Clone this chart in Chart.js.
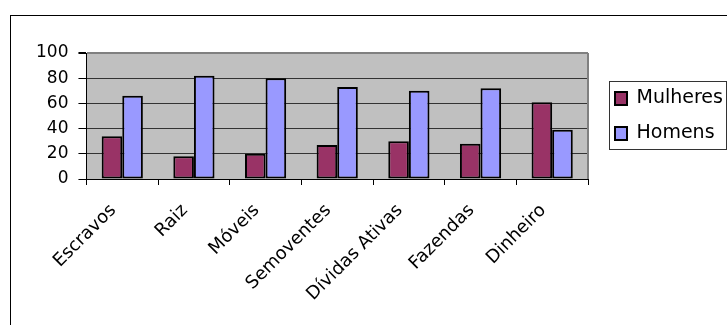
<!DOCTYPE html>
<html>
<head>
<meta charset="utf-8">
<script src="https://cdn.jsdelivr.net/npm/chart.js@4"></script>
<style>
  html, body { margin: 0; padding: 0; background: #fff; overflow: hidden; }
  body { width: 727px; height: 325px; position: relative; }
  #frame { position: absolute; left: 10px; top: 15px; width: 800px; height: 400px;
           border-left: 1px solid #000; border-top: 1px solid #000; }
  #wrap { position: absolute; left: 0; top: 0; width: 727px; height: 325px; }
</style>
</head>
<body>
<div id="frame"></div>
<div id="wrap"><canvas id="chart"></canvas></div>
<script>
// ── Data ───────────────────────────────────────────────────────
const categories = ["Escravos", "Raiz", "Móveis", "Semoventes", "Dívidas Ativas", "Fazendas", "Dinheiro"];
const mulheres   = [34, 18, 20, 27, 30, 28, 61];
const homens     = [66, 82, 80, 73, 70, 72, 39];
const yTicks     = [0, 20, 40, 60, 80, 100];

// ── Palette ────────────────────────────────────────────────────
const COLORS = {
  plum:   "#993366",
  lilac:  "#9999ff",
  plot:   "#c0c0c0",
  frame:  "#808080",
  grid:   "#333333",
  ink:    "#000000",
};

const FONT = "'DejaVu Sans', sans-serif";

// grey plot background + grey right border, box round the legend
const plotFrame = {
  id: "plotFrame",
  afterLayout(chart) {
    // legend box is squeezed by the layout; let its text run to the canvas edge
    if (chart.legend) chart.legend.right = chart.width;
  },
  beforeDraw(chart) {
    const { ctx, chartArea: a } = chart;
    ctx.save();
    ctx.fillStyle = COLORS.plot;
    ctx.fillRect(a.left, a.top, a.right - a.left, a.bottom - a.top);
    ctx.restore();
  },
  beforeDatasetsDraw(chart) {
    const { ctx, chartArea: a } = chart;
    ctx.save();
    ctx.strokeStyle = COLORS.frame;
    ctx.lineWidth = 2;
    ctx.beginPath();
    ctx.moveTo(a.right, a.top);
    ctx.lineTo(a.right, a.bottom);
    ctx.stroke();
    ctx.restore();
  },
  afterDraw(chart) {
    const lg = chart.legend;
    if (!lg || !lg.legendHitBoxes.length) return;
    const hb = lg.legendHitBoxes;
    const last = hb[hb.length - 1];
    const x0 = Math.round(hb[0].left - 6) + 0.5;
    const y0 = Math.round(hb[0].top - 8.5) + 0.5;
    const x1 = Math.round(hb[0].left + 111) + 0.5;
    const y1 = Math.round(last.top + last.height + 5.5) + 0.5;
    const ctx = chart.ctx;
    ctx.save();
    ctx.strokeStyle = COLORS.grid;
    ctx.lineWidth = 1;
    ctx.strokeRect(x0, y0, x1 - x0, y1 - y0);
    ctx.restore();
  }
};

new Chart(document.getElementById("chart"), {
  type: "bar",
  data: {
    labels: categories,
    datasets: [
      { label: "Mulheres", data: mulheres, backgroundColor: COLORS.plum,
        borderColor: COLORS.ink, borderWidth: 2, borderSkipped: false },
      { label: "Homens", data: homens, backgroundColor: COLORS.lilac,
        borderColor: COLORS.ink, borderWidth: 2, borderSkipped: false },
    ]
  },
  options: {
    responsive: true,
    maintainAspectRatio: false,
    animation: false,
    categoryPercentage: 0.575,
    barPercentage: 1.0,
    layout: { padding: { left: 26, top: 53, right: 13.4, bottom: 20 } },
    plugins: {
      tooltip: { enabled: false },
      legend: {
        position: "right",
        fullSize: false,
        labels: {
          color: COLORS.ink,
          font: { family: FONT, size: 19 },
          boxWidth: 12,
          boxHeight: 13,
          padding: 16,
        }
      }
    },
    scales: {
      x: {
        offset: true,
        grid: { offset: true, drawOnChartArea: false, color: COLORS.ink, tickLength: 6 },
        border: { color: COLORS.ink, width: 1 },
        ticks: {
          color: COLORS.ink,
          font: { family: FONT, size: 18 },
          minRotation: 45, maxRotation: 45,
          autoSkip: false,
          padding: 15,
          labelOffset: -9,
        }
      },
      y: {
        min: 0, max: 100,
        afterBuildTicks: s => { s.ticks = yTicks.map(v => ({ value: v })); },
        grid: {
          color: c => c.tick && c.tick.value === 100 ? COLORS.frame : COLORS.grid,
          lineWidth: c => c.tick && c.tick.value === 100 ? 2 : 1,
          tickColor: COLORS.ink,
          tickLength: 8,
        },
        border: { color: COLORS.ink, width: 1 },
        ticks: {
          color: COLORS.ink,
          font: { family: FONT, size: 17 },
          autoSkip: false,
          padding: 10,
        }
      },
      // spacer between the plot and the legend
      gap: {
        type: "linear",
        position: "right",
        display: true,
        grid: { display: false, drawTicks: false },
        ticks: { display: false },
        border: { display: false },
        afterFit: s => { s.width = 11; }
      }
    }
  },
  plugins: [plotFrame]
});
</script>
</body>
</html>
